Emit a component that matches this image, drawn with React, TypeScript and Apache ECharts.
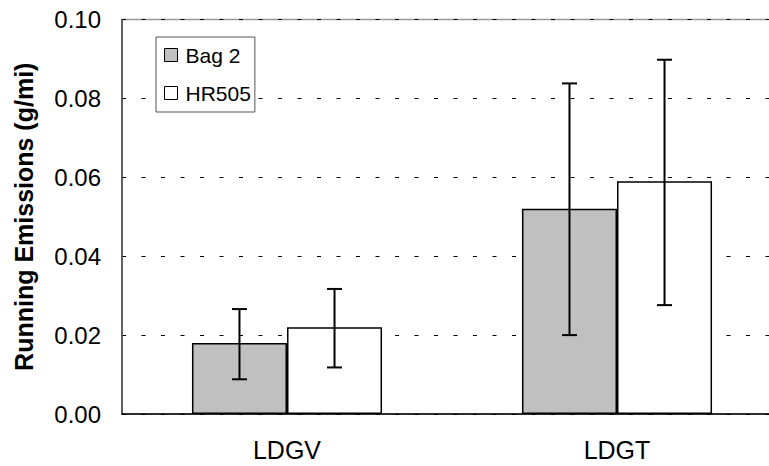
import React, { useEffect, useRef } from "react";
import * as echarts from "echarts";

const categories = ["LDGV", "LDGT"];
const seriesNames = ["Bag 2", "HR505"];
const bag2Values = [0.018, 0.052];
const hr505Values = [0.022, 0.059];
const bag2Low = [0.0088, 0.02];
const bag2High = [0.0266, 0.0838];
const hr505Low = [0.0118, 0.0276];
const hr505High = [0.0317, 0.0898];
const yTicks = [0, 0.02, 0.04, 0.06, 0.08, 0.1];

const BAR_PCT = 0.288;

function errorSeries(low: number[], high: number[], side: number) {
  return {
    type: "custom",
    z: 10,
    silent: true,
    data: low.map((l, i) => [i, l, high[i]]),
    renderItem: (params: any, api: any) => {
      const idx = api.value(0);
      const lo = api.coord([idx, api.value(1)]);
      const hi = api.coord([idx, api.value(2)]);
      const band = api.size([1, 0])[0];
      const x = lo[0] + side * band * BAR_PCT * 0.5;
      const cap = 7.5;
      const style = { stroke: "#000", lineWidth: 2 };
      return {
        type: "group",
        children: [
          { type: "line", shape: { x1: x, y1: lo[1], x2: x, y2: hi[1] }, style },
          { type: "line", shape: { x1: x - cap, y1: lo[1], x2: x + cap, y2: lo[1] }, style },
          { type: "line", shape: { x1: x - cap, y1: hi[1], x2: x + cap, y2: hi[1] }, style },
        ],
      };
    },
  };
}

export default function App() {
  const ref = useRef<HTMLDivElement>(null);
  useEffect(() => {
    const chart = echarts.init(ref.current!, null, { renderer: "svg" });
    chart.setOption({
      animation: false,
      textStyle: { fontFamily: "Arial, 'Liberation Sans', sans-serif" },
      grid: {
        left: 122,
        top: 19.5,
        width: 660,
        height: 394.5,
        show: true,
        borderColor: "#999",
        borderWidth: 1.5,
        containLabel: false,
        outerBoundsMode: "none",
      },
      legend: {
        orient: "vertical",
        left: 156,
        top: 37,
        data: seriesNames,
        icon: "rect",
        itemWidth: 13,
        itemHeight: 13,
        itemGap: 14,
        padding: [6, 4, 7, 8],
        borderColor: "#555",
        borderWidth: 1,
        backgroundColor: "#fff",
        textStyle: {
          fontSize: 21,
          color: "#000",
          lineHeight: 24,
          padding: [0, 0, 0, 3],
          fontFamily: "Arial, 'Liberation Sans', sans-serif",
        },
        itemStyle: { borderColor: "#000", borderWidth: 1 },
      },
      xAxis: {
        type: "category",
        data: categories,
        axisLine: { lineStyle: { color: "#000", width: 1.5 } },
        axisTick: { inside: true, length: 7, lineStyle: { color: "#888", width: 1.5 } },
        axisLabel: { fontSize: 25, color: "#000", margin: 23 },
        splitLine: { show: false },
      },
      yAxis: {
        type: "value",
        min: 0,
        max: 0.1,
        interval: 0.02,
        name: "Running Emissions (g/mi)",
        nameLocation: "middle",
        nameGap: 86,
        nameTextStyle: { fontSize: 25, fontWeight: "bold", color: "#000" },
        axisLine: { show: true, lineStyle: { color: "#444", width: 1.5 } },
        axisTick: { show: false },
        axisLabel: {
          fontSize: 24,
          color: "#000",
          margin: 21,
          formatter: (v: number) => (yTicks.some((t) => Math.abs(t - v) < 1e-9) ? v.toFixed(2) : ""),
        },
        splitLine: { lineStyle: { color: "#000", type: [4, 15.5], width: 1 } },
      },
      series: [
        {
          name: seriesNames[0],
          type: "bar",
          data: bag2Values,
          barWidth: "28.8%",
          barGap: "0%",
          itemStyle: { color: "#c0c0c0", borderColor: "#000", borderWidth: 1.5 },
        },
        {
          name: seriesNames[1],
          type: "bar",
          data: hr505Values,
          barWidth: "28.8%",
          barGap: "0%",
          itemStyle: { color: "#fff", borderColor: "#000", borderWidth: 1.5 },
        },
        errorSeries(bag2Low, bag2High, -1),
        errorSeries(hr505Low, hr505High, 1),
      ],
    });
    return () => chart.dispose();
  }, []);
  return (
    <div
      ref={ref}
      style={{ position: "fixed", left: 0, top: 0, width: 769, height: 466, background: "#fff" }}
    />
  );
}
